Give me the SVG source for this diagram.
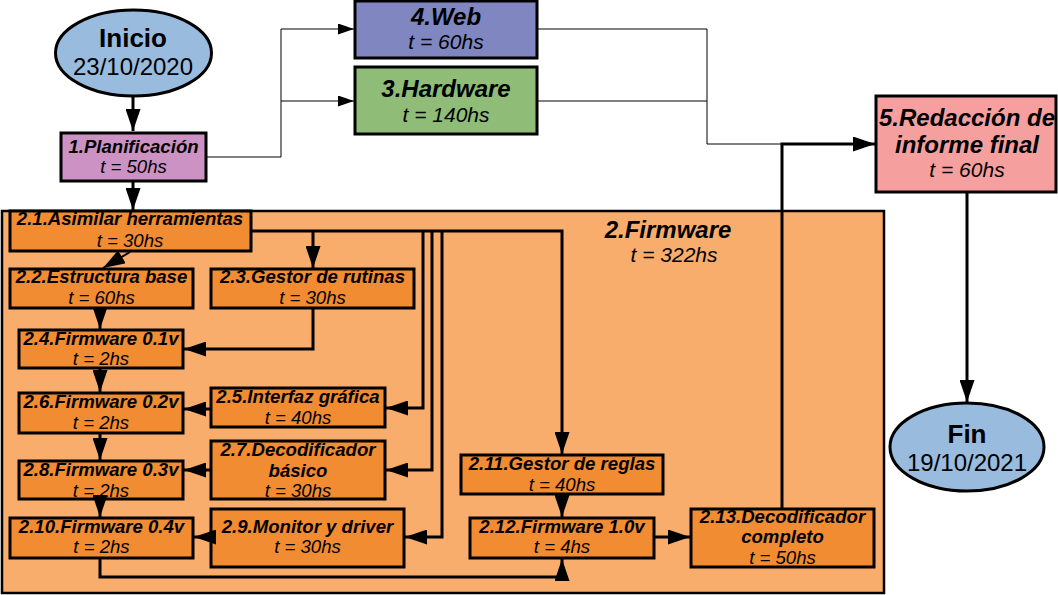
<svg xmlns="http://www.w3.org/2000/svg" width="1058" height="595" viewBox="0 0 1058 595">
<style>
text{font-family:"Liberation Sans",Arial,sans-serif;text-anchor:middle;fill:#000}
.b{font-weight:bold;font-style:italic}
.i{font-style:italic}
.s18{font-size:18.6px}
.s21{font-size:21px}
.s24{font-size:24px}
.box{stroke:#000;stroke-width:3}
.in{fill:#f28c32}
.thick{fill:none;stroke:#000;stroke-width:3}
.thin{fill:none;stroke:#000;stroke-width:1}
</style>
<defs>
<marker id="ah" markerUnits="userSpaceOnUse" markerWidth="22" markerHeight="15" refX="22" refY="7.5" orient="auto">
<path d="M0,0 L22,7.5 L0,15 z" fill="#000"/>
</marker>
<marker id="as" markerUnits="userSpaceOnUse" markerWidth="16" markerHeight="11" refX="16" refY="5.5" orient="auto">
<path d="M0,0 L16,5.5 L0,11 z" fill="#000"/>
</marker>
</defs>

<g id="firmware">
<rect x="2" y="211" width="882" height="382" fill="#f8ad6c" stroke="#000" stroke-width="2.5"/>
<text class="b s24" x="668" y="238">2.Firmware</text>
<text class="i s21" x="674" y="262">t = 322hs</text>
</g>

<g id="inicio">
<ellipse cx="133.5" cy="53" rx="78" ry="43" fill="#99bbdd" stroke="#000" stroke-width="3"/>
<text style="font-weight:bold;font-size:26px" x="133" y="47">Inicio</text>
<text class="s24" x="133" y="75">23/10/2020</text>
</g>

<g id="n1">
<rect class="box" x="61" y="133" width="145" height="48" fill="#cc92c4"/>
<text class="b s18" x="133.5" y="153">1.Planificación</text>
<text class="i s18" x="133.5" y="173">t = 50hs</text>
</g>

<g id="n4">
<rect class="box" x="355" y="1" width="182" height="57" fill="#7f86c0"/>
<text class="b s24" x="446" y="25">4.Web</text>
<text class="i s21" x="446" y="49">t = 60hs</text>
</g>

<g id="n3">
<rect class="box" x="355" y="67" width="182" height="67" fill="#8fbd78"/>
<text class="b s24" x="446" y="97">3.Hardware</text>
<text class="i s21" x="446" y="122">t = 140hs</text>
</g>

<g id="n5">
<rect class="box" x="876" y="96" width="180" height="96" fill="#f5a09f"/>
<text class="b s24" x="967" y="126">5.Redacción de</text>
<text class="b s24" x="967" y="153">informe final</text>
<text class="i s21" x="967" y="177">t = 60hs</text>
</g>

<g id="fin">
<ellipse cx="967" cy="447" rx="77" ry="44" fill="#99bbdd" stroke="#000" stroke-width="3"/>
<text style="font-weight:bold;font-size:26px" x="967" y="443">Fin</text>
<text class="s24" x="967" y="471">19/10/2021</text>
</g>

<g id="n21">
<rect class="box in" x="10" y="211" width="241" height="40"/>
<text class="b s18" x="130" y="225">2.1.Asimilar herramientas</text>
<text class="i s18" x="130" y="247">t = 30hs</text>
</g>
<g id="n22">
<rect class="box in" x="10" y="269" width="183" height="39"/>
<text class="b s18" x="101.5" y="283">2.2.Estructura base</text>
<text class="i s18" x="101.5" y="304">t = 60hs</text>
</g>
<g id="n23">
<rect class="box in" x="211" y="269" width="203" height="39"/>
<text class="b s18" x="312.5" y="283">2.3.Gestor de rutinas</text>
<text class="i s18" x="312.5" y="304">t = 30hs</text>
</g>
<g id="n24">
<rect class="box in" x="19" y="330" width="164" height="38"/>
<text class="b s18" x="101" y="345">2.4.Firmware 0.1v</text>
<text class="i s18" x="101" y="365">t = 2hs</text>
</g>
<g id="n25">
<rect class="box in" x="211" y="388" width="174" height="39"/>
<text class="b s18" x="298" y="403">2.5.Interfaz gráfica</text>
<text class="i s18" x="298" y="424">t = 40hs</text>
</g>
<g id="n26">
<rect class="box in" x="19" y="393" width="164" height="40"/>
<text class="b s18" x="101" y="408">2.6.Firmware 0.2v</text>
<text class="i s18" x="101" y="429">t = 2hs</text>
</g>
<g id="n27">
<rect class="box in" x="211" y="441" width="174" height="58"/>
<text class="b s18" x="298" y="456">2.7.Decodificador</text>
<text class="b s18" x="298" y="477">básico</text>
<text class="i s18" x="298" y="497">t = 30hs</text>
</g>
<g id="n28">
<rect class="box in" x="19" y="461" width="164" height="38"/>
<text class="b s18" x="101" y="476">2.8.Firmware 0.3v</text>
<text class="i s18" x="101" y="497">t = 2hs</text>
</g>
<g id="n29">
<rect class="box in" x="211" y="509" width="193" height="58"/>
<text class="b s18" x="307.5" y="533">2.9.Monitor y driver</text>
<text class="i s18" x="307.5" y="553">t = 30hs</text>
</g>
<g id="n210">
<rect class="box in" x="10" y="518" width="183" height="40"/>
<text class="b s18" x="101.5" y="533">2.10.Firmware 0.4v</text>
<text class="i s18" x="101.5" y="553">t = 2hs</text>
</g>
<g id="n211">
<rect class="box in" x="461" y="455" width="202" height="39"/>
<text class="b s18" x="562" y="470">2.11.Gestor de reglas</text>
<text class="i s18" x="562" y="491">t = 40hs</text>
</g>
<g id="n212">
<rect class="box in" x="470" y="518" width="184" height="40"/>
<text class="b s18" x="562" y="533">2.12.Firmware 1.0v</text>
<text class="i s18" x="562" y="553">t = 4hs</text>
</g>
<g id="n213">
<rect class="box in" x="691" y="509" width="183" height="58"/>
<text class="b s18" x="782.5" y="523">2.13.Decodificador</text>
<text class="b s18" x="782.5" y="543">completo</text>
<text class="i s18" x="782.5" y="564">t = 50hs</text>
</g>

<g id="connectors">
<path class="thick" d="M133,97 V131" marker-end="url(#ah)"/>
<path class="thick" d="M133,181 V210" marker-end="url(#ah)"/>
<path class="thin" d="M206,157 H281 V29 H354" marker-end="url(#as)"/>
<path class="thin" d="M281,101 H354" marker-end="url(#as)"/>
<path class="thin" d="M537,29 H707 V144 H782"/>
<path class="thin" d="M537,101 H707"/>
<path class="thick" d="M782,509 V144 H875" marker-end="url(#ah)"/>
<path class="thick" d="M967,192 V402" marker-end="url(#ah)"/>
<path class="thick" style="stroke-width:2" d="M130,252 L103,268" marker-end="url(#ah)"/>
<path class="thick" d="M251,231 H562 V454" marker-end="url(#ah)"/>
<path class="thick" d="M313,231 V268" marker-end="url(#ah)"/>
<path class="thick" d="M313,308 V349 H184" marker-end="url(#ah)"/>
<path class="thick" d="M100,308 V329" marker-end="url(#ah)"/>
<path class="thick" d="M100,368 V392" marker-end="url(#ah)"/>
<path class="thick" d="M423,231 V408 H386" marker-end="url(#ah)"/>
<path class="thick" d="M211,409 H184" marker-end="url(#ah)"/>
<path class="thick" d="M100,433 V460" marker-end="url(#ah)"/>
<path class="thick" d="M432,231 V470 H386" marker-end="url(#ah)"/>
<path class="thick" d="M211,470 H184" marker-end="url(#ah)"/>
<path class="thick" d="M100,499 V517" marker-end="url(#ah)"/>
<path class="thick" d="M442,231 V537 H405" marker-end="url(#ah)"/>
<path class="thick" d="M211,537 H194" marker-end="url(#ah)"/>
<path class="thick" d="M100,558 V577 H562 V559" marker-end="url(#ah)"/>
<path class="thick" d="M562,494 V517" marker-end="url(#ah)"/>
<path class="thick" d="M654,537 H690" marker-end="url(#ah)"/>
</g>
</svg>
